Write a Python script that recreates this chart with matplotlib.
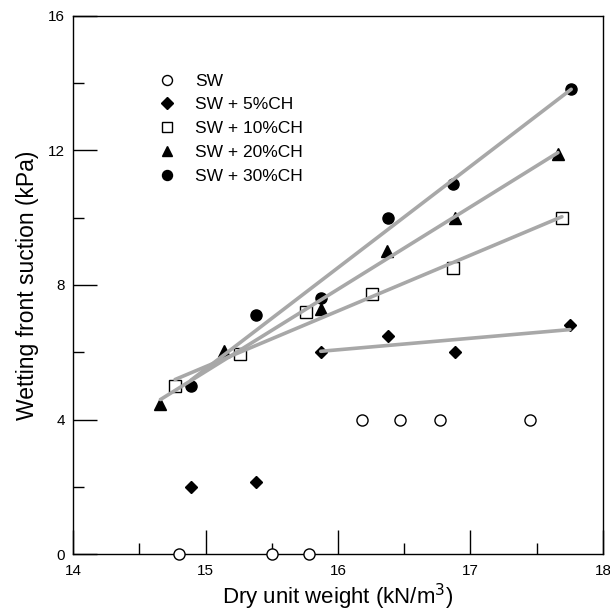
import numpy as np
import matplotlib
matplotlib.use("Agg")
import matplotlib.pyplot as plt
from matplotlib.ticker import MultipleLocator

plt.rcParams['font.family'] = ['Liberation Sans', 'DejaVu Sans']

# Data
sw_x = [14.80, 15.50, 15.78, 16.18, 16.47, 16.77, 17.45]
sw_y = [0.0, 0.0, 0.0, 4.0, 4.0, 4.0, 4.0]

ch5_x = [14.89, 15.38, 15.87, 16.38, 16.88, 17.75]
ch5_y = [2.0, 2.15, 6.0, 6.48, 6.0, 6.8]
ch5_fit_start = 2  # trend line uses points from this index on

ch10_x = [14.77, 15.26, 15.76, 16.26, 16.87, 17.69]
ch10_y = [5.0, 5.95, 7.2, 7.73, 8.5, 10.0]

ch20_x = [14.66, 15.14, 15.87, 16.37, 16.88, 17.66]
ch20_y = [4.45, 6.03, 7.28, 9.0, 10.0, 11.9]

ch30_x = [14.89, 15.38, 15.87, 16.38, 16.87, 17.76]
ch30_y = [5.0, 7.1, 7.62, 10.0, 11.0, 13.83]

labels = ["SW", "SW + 5%CH", "SW + 10%CH", "SW + 20%CH", "SW + 30%CH"]

fig = plt.figure(figsize=(6.10, 6.14), dpi=100)
ax = fig.add_axes([0.1197, 0.0977, 0.8688, 0.8763])

ms = 8
h0, = ax.plot(sw_x, sw_y, 'o', mfc='white', mec='black', ms=ms, mew=1.0, zorder=3, clip_on=False)
h1, = ax.plot(ch5_x, ch5_y, 'D', color='black', ms=6.5, zorder=3)
h2, = ax.plot(ch10_x, ch10_y, 's', mfc='white', mec='black', ms=ms, mew=1.0, zorder=3)
h3, = ax.plot(ch20_x, ch20_y, '^', color='black', ms=ms, zorder=3)
h4, = ax.plot(ch30_x, ch30_y, 'o', color='black', ms=ms, zorder=3)

def trend(xs, ys):
    xs = np.asarray(xs); ys = np.asarray(ys)
    p = np.polyfit(xs, ys, 1)
    xx = np.array([xs.min(), xs.max()])
    ax.plot(xx, np.polyval(p, xx), '-', color='#a8a8a8', lw=2.6, zorder=4,
            solid_capstyle='round')

trend(ch5_x[ch5_fit_start:], ch5_y[ch5_fit_start:])
trend(ch10_x, ch10_y)
trend(ch20_x, ch20_y)
trend(ch30_x, ch30_y)

ax.set_xlim(14, 18)
ax.set_ylim(0, 16)
ax.xaxis.set_major_locator(MultipleLocator(1))
ax.xaxis.set_minor_locator(MultipleLocator(0.5))
ax.yaxis.set_major_locator(MultipleLocator(4))
ax.yaxis.set_minor_locator(MultipleLocator(2))
ax.tick_params(which='major', direction='in', length=17, width=1, labelsize=11, pad=7)
ax.tick_params(which='minor', direction='in', length=8, width=1)
ax.tick_params(axis='y', which='both', pad=6)
for s in ax.spines.values():
    s.set_linewidth(1.0)

ax.set_xlabel("Dry unit weight (kN/m$^3$)", fontsize=16, labelpad=3)
ax.set_ylabel("Wetting front suction (kPa)", fontsize=16.5, labelpad=6)

leg = ax.legend([h0, h1, h2, h3, h4], labels, loc='upper left',
                bbox_to_anchor=(0.148, 0.906), frameon=False, fontsize=12.5,
                handlelength=1.0, handletextpad=1.1, labelspacing=0.5,
                borderaxespad=0, markerscale=0.9)

fig.savefig("out.png", dpi=100)
